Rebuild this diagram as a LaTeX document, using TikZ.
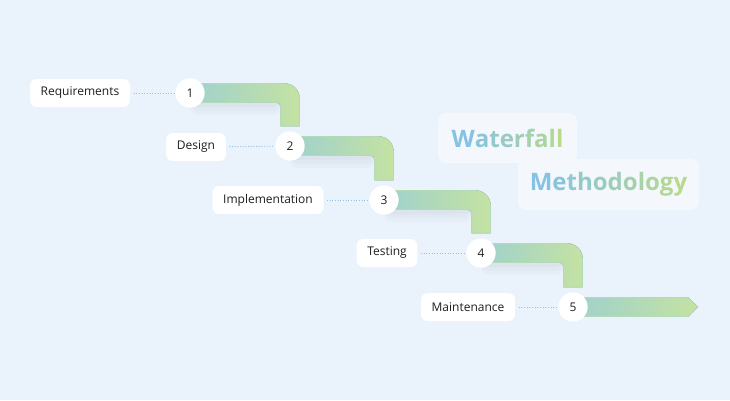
\documentclass[tikz,border=0pt]{standalone}
\usepackage{fontspec}
\setmainfont{Open Sans}
\usepackage{tikz}
\usetikzlibrary{calc}

\definecolor{bgblue}{HTML}{EAF3FB}
\definecolor{boxwhite}{HTML}{F4F8FD}
\definecolor{dotblue}{HTML}{8CC3E3}
\definecolor{bandteal}{HTML}{9FD1CE}
\definecolor{bandgreen}{HTML}{C4E2A2}
\definecolor{ttblue}{HTML}{85C2E3}
\definecolor{ttgreen}{HTML}{B8DA8D}
\definecolor{inkgray}{HTML}{1E1E1E}

\tikzset{
  stage/.style={fill=white, rounded corners=5pt, minimum height=21pt, inner xsep=8pt, inner ysep=0pt, text=inkgray, font=\fontsize{9}{11}\selectfont},
  num/.style={circle, fill=white, minimum size=22pt, inner sep=0pt, text=inkgray, font=\fontsize{9}{11}\selectfont},
  band/.style={left color=bandteal, right color=bandgreen, draw=bandteal!45!bandgreen, line width=0.4pt},
  bandshadow/.style={fill=black, fill opacity=0.018},
  link/.style={dotblue, line width=0.7pt, dash pattern=on 0.7pt off 1.3pt, shorten <=2.5pt, shorten >=1pt},
  titlebox/.style={fill=boxwhite, rounded corners=6pt, inner sep=0pt, font=\fontsize{18}{22}\selectfont\bfseries}
}

\begin{document}
\begin{tikzpicture}[x=0.75pt,y=0.75pt,yscale=-1,xscale=1]
\fill[bgblue] (0,0) rectangle (730,400);
\useasboundingbox (0,0) rectangle (730,400);

% Step points
\coordinate (p1) at (190,93);
\coordinate (p2) at (290,146);
\coordinate (p3) at (384,200);
\coordinate (p4) at (481,253);
\coordinate (p5) at (573,307);
\coordinate (tip) at (698,307);

% Soft shadows under the bands
\foreach \a/\b in {p1/p2,p2/p3,p3/p4,p4/p5}{
  \foreach \d in {14,18,22}{
    \fill[bandshadow] ($(\a)+(0,0)$) [rounded corners=6pt] -- ($(\b|-\a)+(-9.5,0)$) -- ($(\b|-\a)+(-9.5,\d)$) -- ($(\a)+(0,\d)$) [sharp corners] -- cycle;
  }
}

% Bands
\foreach \a/\b in {p1/p2,p2/p3,p3/p4,p4/p5}{
  \fill[band] ($(\a)+(0,-9.5)$) [rounded corners=11pt] -- ($(\b|-\a)+(9.5,-9.5)$) [sharp corners] -- ($(\b)+(9.5,-20)$) -- ($(\b)+(-9.5,-20)$) [rounded corners=3pt] -- ($(\b|-\a)+(-9.5,9.5)$) [sharp corners] -- ($(\a)+(0,9.5)$) -- cycle;
}
\fill[band] ($(p5)+(0,-9.5)$) -- ($(tip)+(-10,-9.5)$) -- (tip) -- ($(tip)+(-10,9.5)$) -- ($(p5)+(0,9.5)$) -- cycle;

% Numbers
\node[num] (s1) at (p1) {1};
\node[num] (s2) at (p2) {2};
\node[num] (s3) at (p3) {3};
\node[num] (s4) at (p4) {4};
\node[num] (s5) at (p5) {5};

% Stage labels
\node[stage] (req) at (80,93) {Requirements};
\node[stage] (des) at (196,147) {Design};
\node[stage] (imp) at (268,200) {Implementation};
\node[stage] (tes) at (387,253) {Testing};
\node[stage] (mai) at (468,307) {Maintenance};

% Dotted links
\draw[link] (req) -- (s1);
\draw[link] (des) -- (s2);
\draw[link] (imp) -- (s3);
\draw[link] (tes) -- (s4);
\draw[link] (mai) -- (s5);

% Title
\node[titlebox, minimum width=104pt, minimum height=37.5pt] (wf) at (507.5,138) {\foreach \ch [count=\k] in {W,a,t,e,r,f,a,l,l}{\pgfmathtruncatemacro\pc{100-(\k-1)*100/8}\textcolor{ttblue!\pc!ttgreen}{\ch}}};
\node[titlebox, minimum width=135.75pt, minimum height=38.25pt] (mt) at (608.5,184.5) {\foreach \ch [count=\k] in {M,e,t,h,o,d,o,l,o,g,y}{\pgfmathtruncatemacro\pc{100-(\k-1)*100/10}\textcolor{ttblue!\pc!ttgreen}{\ch}}};

\end{tikzpicture}
\end{document}
